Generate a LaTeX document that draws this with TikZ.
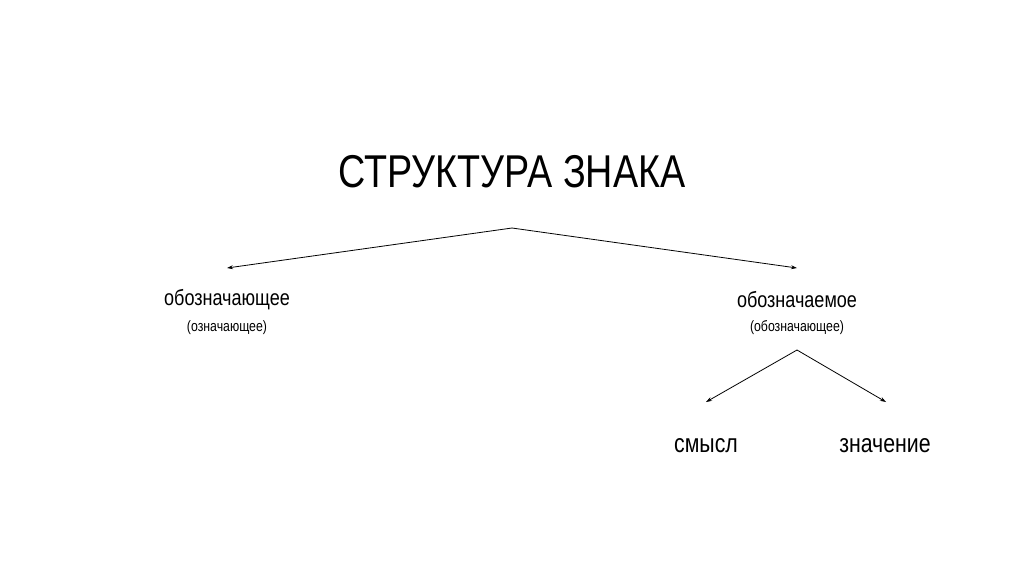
\documentclass[tikz,border=0pt]{standalone}
\usepackage{fontspec}
\setmainfont[FakeStretch=0.82]{Liberation Sans}
\usetikzlibrary{arrows.meta}
\begin{document}
\begin{tikzpicture}[x=1pt,y=-1pt,
  arr/.style={-{Stealth[length=6pt,width=4pt]},line width=0.8pt},
  lbl/.style={inner sep=0pt,font=\fontsize{22}{24}\selectfont},
  sub/.style={inner sep=0pt,font=\fontsize{15}{17}\selectfont},
  big/.style={inner sep=0pt,font=\fontsize{26}{28}\selectfont}]
\useasboundingbox[fill=white] (0,0) rectangle (1024,574);
\node[inner sep=0pt,font=\fontsize{46}{48}\selectfont] (t) at (512,172) {СТРУКТУРА ЗНАКА};
\coordinate (top) at (512,228);
\node[lbl] (l1) at (227,300) {обозначающее};
\node[sub] (l2) at (227,328) {(означающее)};
\node[lbl] (r1) at (797,300) {обозначаемое};
\node[sub] (r2) at (797,328) {(обозначающее)};
\coordinate (ra) at (797,350);
\node[big] (s) at (706,446) {смысл};
\node[big] (z) at (885,446) {значение};
\coordinate (la) at (227,268);
\coordinate (rb) at (797,268);
\coordinate (sa) at (706,402);
\coordinate (za) at (886,402);
\draw[arr] (top) -- (la);
\draw[arr] (top) -- (rb);
\draw[arr] (ra) -- (sa);
\draw[arr] (ra) -- (za);
\end{tikzpicture}
\end{document}
